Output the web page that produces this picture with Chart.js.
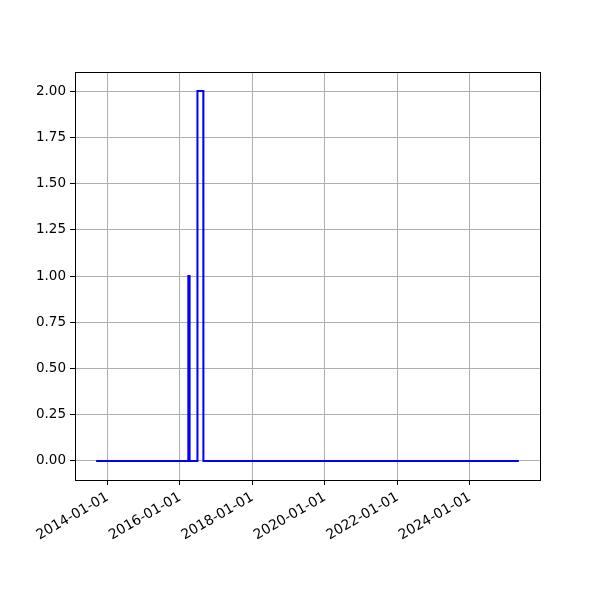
<!DOCTYPE html>
<html>
<head>
<meta charset="utf-8">
<script src="https://cdn.jsdelivr.net/npm/chart.js@4/dist/chart.umd.min.js"></script>
<style>
  html, body { margin: 0; padding: 0; background: #fff; }
</style>
</head>
<body>
<canvas id="grafico" width="600" height="600"></canvas>
<script>
// Datos
const fechas = ['2013-09-08', '2016-03-24', '2016-03-25', '2016-04-06', '2016-04-07',
                '2016-06-24', '2016-06-25', '2016-08-23', '2016-08-24', '2025-05-08'];
const valores = [0, 0, 1, 1, 0, 0, 2, 2, 0, 0];
const anosTicks = [2014, 2016, 2018, 2020, 2022, 2024];
const ticksY = [0, 0.25, 0.5, 0.75, 1, 1.25, 1.5, 1.75, 2];

const tiempos = fechas.map(f => Date.parse(f));
const tMin = Math.min(...tiempos), tMax = Math.max(...tiempos);
const margen = (tMax - tMin) * 0.05;

function fmtFecha(ms) {
    const d = new Date(ms);
    const mm = String(d.getUTCMonth() + 1).padStart(2, '0');
    const dd = String(d.getUTCDate()).padStart(2, '0');
    return d.getUTCFullYear() + '-' + mm + '-' + dd;
}

// Marco negro alrededor del área del gráfico
const marco = {
    id: 'marco',
    afterDraw(chart) {
        const a = chart.chartArea, ctx = chart.ctx;
        ctx.save();
        ctx.strokeStyle = '#000';
        ctx.lineWidth = 1;
        ctx.strokeRect(Math.round(a.left) + 0.5, Math.round(a.top) + 0.5,
                       Math.round(a.right - a.left), Math.round(a.bottom - a.top));
        ctx.restore();
    }
};

Chart.defaults.font.family = 'DejaVu Sans';
Chart.defaults.font.size = 13.5;
Chart.defaults.color = '#000';

new Chart(document.getElementById('grafico').getContext('2d'), {
    type: 'line',
    data: {
        datasets: [{
            data: tiempos.map((t, i) => ({ x: t, y: valores[i] })),
            borderColor: '#0000ff',
            borderWidth: 2,
            pointRadius: 0,
            fill: false,
            tension: 0,
        }],
    },
    options: {
        responsive: false,
        animation: false,
        devicePixelRatio: 1,
        layout: { padding: { top: 72, right: 60, left: 0, bottom: 0 } },
        plugins: { legend: { display: false }, tooltip: { enabled: false } },
        scales: {
            x: {
                type: 'linear',
                min: tMin - margen,
                max: tMax + margen,
                afterBuildTicks(scale) {
                    scale.ticks = anosTicks.map(a => ({ value: Date.UTC(a, 0, 1) }));
                },
                afterFit(scale) { scale.height = 120; },
                ticks: {
                    minRotation: 30,
                    maxRotation: 30,
                    padding: 4,
                    autoSkip: false,
                    font: { size: 13.9 },
                    callback: v => fmtFecha(v),
                },
                grid: { color: '#b0b0b0', lineWidth: 1, tickColor: '#000', tickLength: 5 },
                border: { color: '#000' },
            },
            y: {
                min: -0.103,
                max: 2.103,
                afterBuildTicks(scale) {
                    scale.ticks = ticksY.map(v => ({ value: v }));
                },
                afterFit(scale) { scale.width = 75; },
                ticks: {
                    padding: 4,
                    callback: v => v.toFixed(2),
                },
                grid: { color: '#b0b0b0', lineWidth: 1, tickColor: '#000', tickLength: 5 },
                border: { color: '#000' },
            },
        },
    },
    plugins: [marco],
});
</script>
</body>
</html>
